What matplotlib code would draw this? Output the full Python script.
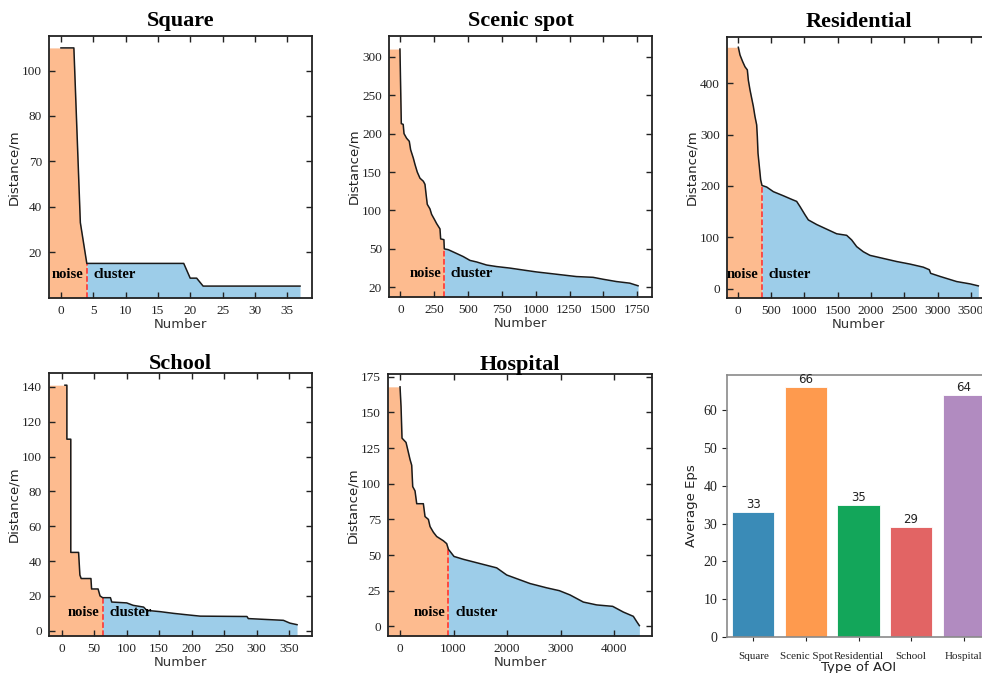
import numpy as np
import matplotlib
matplotlib.use('Agg')
import matplotlib.pyplot as plt

W, H = 982, 673
SERIF = 'Liberation Serif'
SANS = 'DejaVu Sans'
NOISE_C = '#fdbb8f'
CLUSTER_C = '#9dcde9'

# ---------------- data ----------------
square_noise_x = [0, 2, 3, 4]
square_noise_y = [110, 110, 33, 15]
square_cluster_x = [4, 19, 20, 21, 22, 37]
square_cluster_y = [15, 15, 8.5, 8.5, 5, 5]

scenic_noise_x = [-4, 6, 20, 26, 45, 65, 75, 95, 107, 124, 144, 169, 181, 188, 198,
                  218, 230, 255, 267, 292, 297, 321, 324]
scenic_noise_y = [310, 213, 212, 200, 194, 190, 179, 168, 160, 150, 142, 138, 134, 123, 108,
                  102, 95, 87, 83, 76, 63, 62, 50]
scenic_cluster_x = [324, 353, 415, 464, 514, 563, 637, 711, 810, 907, 1006, 1105, 1203,
                    1301, 1424, 1498, 1597, 1696, 1757]
scenic_cluster_y = [50, 49, 44, 40, 35, 33, 29, 27, 25, 22.5, 20, 18, 16,
                    14, 13, 10.5, 7.5, 5.4, 2]

resid_noise_x = [10, 35, 75, 110, 145, 160, 185, 210, 235, 260, 285, 295, 305, 325, 345, 365]
resid_noise_y = [470, 455, 442, 432, 426, 406, 387, 371, 355, 335, 319, 296, 264, 238, 212, 201]
resid_cluster_x = [365, 435, 535, 685, 810, 885, 935, 1010, 1060, 1185, 1335, 1485, 1635,
                   1710, 1785, 1885, 1985, 2185, 2385, 2585, 2785, 2875, 2895, 3035, 3285,
                   3485, 3610]
resid_cluster_y = [201, 198, 189, 181, 174, 170, 160, 144, 134, 125, 116, 107, 104,
                   95, 82, 72, 65, 59, 53, 48, 42, 37, 30, 24, 14, 9.5, 5.6]

school_noise_x = [5, 8, 8, 14, 14, 26, 28, 30, 45, 46, 56, 59, 63]
school_noise_y = [141, 141, 110, 110, 45, 45, 32, 30, 30, 24, 24, 20, 19]
school_cluster_x = [63, 75, 77, 100, 110, 126, 131, 151, 172, 192, 213, 285, 287, 341, 351, 362]
school_cluster_y = [19, 19, 16.5, 16, 14.6, 13.6, 11.7, 11, 10, 9.2, 8.4, 8.2, 7, 6, 4.4, 3.5]

hosp_noise_x = [0, 19, 37, 112, 156, 187, 218, 237, 280, 312, 436, 467, 530, 561, 623,
                685, 810, 872, 905]
hosp_noise_y = [168, 154, 132, 129, 122, 117, 113, 98, 95, 86, 86, 77, 75, 70, 66,
                63, 60, 58, 54]
hosp_cluster_x = [905, 1009, 1184, 1495, 1807, 1994, 2430, 2741, 2978, 3178, 3427, 3676,
                  3975, 4174, 4361, 4424, 4474]
hosp_cluster_y = [54, 49, 47, 44, 41, 36, 30, 27, 25, 22, 17, 15, 14, 10, 7, 3.3, 0.5]

bar_categories = ['Square', 'Scenic Spot', 'Residential', 'School', 'Hospital']
bar_values = [33, 66, 35, 29, 64]
bar_colors = ['#3a8bb7', '#fe9a4e', '#13a65a', '#e26464', '#b18bc0']

# ---------------- layout helpers ----------------
def rect(l, t, r, b):
    return [l / W, 1 - b / H, (r - l) / W, (b - t) / H]

fig = plt.figure(figsize=(W / 100, H / 100), dpi=100)

panels = [
    dict(title='Square', rect=(49, 36, 312, 298), nx=square_noise_x, ny=square_noise_y,
         cx=square_cluster_x, cy=square_cluster_y, xlim=(-1.85, 38.85), ylim=(-0.25, 115.25),
         xticks=[0, 5, 10, 15, 20, 25, 30, 35],
         yticks=[20, 40, 60, 80, 100], ylabels=['20', '40', '70', '80', '100'], pad=7),
    dict(title='Scenic spot', rect=(389, 36, 652, 297), nx=scenic_noise_x, ny=scenic_noise_y,
         cx=scenic_cluster_x, cy=scenic_cluster_y, xlim=(-85, 1860), ylim=(-12.6, 327),
         xticks=[0, 250, 500, 750, 1000, 1250, 1500, 1750],
         yticks=[0, 50, 100, 150, 200, 250, 300],
         ylabels=['20', '50', '100', '150', '200', '250', '300'], pad=7),
    dict(title='Residential', rect=(727, 37, 990, 298), nx=resid_noise_x, ny=resid_noise_y,
         cx=resid_cluster_x, cy=resid_cluster_y, xlim=(-160, 3785), ylim=(-18, 490),
         xticks=[0, 500, 1000, 1500, 2000, 2500, 3000, 3500],
         yticks=[0, 100, 200, 300, 400], ylabels=None, pad=7),
    dict(title='School', rect=(49, 373, 312, 636), nx=school_noise_x, ny=school_noise_y,
         cx=school_cluster_x, cy=school_cluster_y, xlim=(-19.5, 385), ylim=(-3, 148),
         xticks=[0, 50, 100, 150, 200, 250, 300, 350],
         yticks=[0, 20, 40, 60, 80, 100, 120, 140], ylabels=None, pad=3),
    dict(title='Hospital', rect=(388, 374, 652, 636), nx=hosp_noise_x, ny=hosp_noise_y,
         cx=hosp_cluster_x, cy=hosp_cluster_y, xlim=(-225, 4710), ylim=(-6.8, 177),
         xticks=[0, 1000, 2000, 3000, 4000],
         yticks=[0, 25, 50, 75, 100, 125, 150, 175], ylabels=None, pad=3),
]

for p in panels:
    ax = fig.add_axes(rect(*p['rect']))
    ax.set_xlim(*p['xlim'])
    ax.set_ylim(*p['ylim'])
    y0 = p['ylim'][0]
    nx = [p['xlim'][0]] + list(p['nx'])
    ny = [p['ny'][0]] + list(p['ny'])
    ax.fill_between(nx, ny, y0, color=NOISE_C, lw=0, zorder=1)
    ax.fill_between(p['cx'], p['cy'], y0, color=CLUSTER_C, lw=0, zorder=1)
    b = p['nx'][-1]
    ax.plot([b, b], [y0, p['ny'][-1]], color='#ff2a2a', ls='--', lw=1.1, zorder=2)
    ax.plot(list(p['nx']) + list(p['cx']), list(p['ny']) + list(p['cy']),
            color='#1a1a1a', lw=1.1, zorder=3)
    ax.text(b - 0.012 * (p['xlim'][1] - p['xlim'][0]), 0.065, 'noise',
            transform=ax.get_xaxis_transform(), ha='right', va='bottom',
            fontfamily=SERIF, fontweight='bold', fontsize=10.5, zorder=4)
    ax.text(b + 0.025 * (p['xlim'][1] - p['xlim'][0]), 0.065, 'cluster',
            transform=ax.get_xaxis_transform(), ha='left', va='bottom',
            fontfamily=SERIF, fontweight='bold', fontsize=10.5, zorder=4)
    ax.set_xticks(p['xticks'])
    ax.set_yticks(p['yticks'])
    if p['ylabels'] is not None:
        ax.set_yticklabels(p['ylabels'])
    ax.tick_params(direction='in', top=True, right=True, length=4, width=1,
                   labelsize=9.5, colors='#222222', pad=5)
    for lab in ax.get_xticklabels() + ax.get_yticklabels():
        lab.set_fontfamily(SERIF)
    for s in ax.spines.values():
        s.set_linewidth(1.3)
        s.set_color('#222222')
    ax.set_title(p['title'], fontfamily=SERIF, fontweight='bold', fontsize=16, pad=p['pad'])
    ax.set_xlabel('Number', fontfamily=SANS, fontsize=9.5, color='#333333', labelpad=1)
    ax.set_ylabel('Distance/m', fontfamily=SANS, fontsize=9.5, color='#222222', labelpad=1)

# ---------------- bar chart ----------------
axb = fig.add_axes(rect(727, 375, 990, 637))
xpos = np.arange(len(bar_categories))
axb.bar(xpos, bar_values, width=0.8, color=bar_colors, edgecolor='white', linewidth=0.6)
for xi, v in zip(xpos, bar_values):
    axb.text(xi, v + 0.3, str(v), ha='center', va='bottom', fontfamily=SANS,
             fontsize=8.5, color='#222222')
axb.set_xlim(-0.5, 4.5)
axb.set_ylim(0, 69.3)
axb.set_yticks([0, 10, 20, 30, 40, 50, 60])
axb.set_xticks(xpos)
axb.set_xticklabels(bar_categories)
axb.tick_params(axis='y', direction='out', length=3.5, labelsize=10, colors='#222222')
axb.tick_params(axis='x', direction='out', length=3, labelsize=8, colors='#222222', pad=8)
for lab in axb.get_xticklabels() + axb.get_yticklabels():
    lab.set_fontfamily(SERIF)
for s in axb.spines.values():
    s.set_linewidth(1.2)
    s.set_color('#8a8a8a')
axb.set_xlabel('Type of AOI', fontfamily=SANS, fontsize=9.5, color='#222222', labelpad=0)
axb.set_ylabel('Average Eps', fontfamily=SANS, fontsize=9.5, color='#222222', labelpad=4)

fig.savefig('out.png', dpi=100)
